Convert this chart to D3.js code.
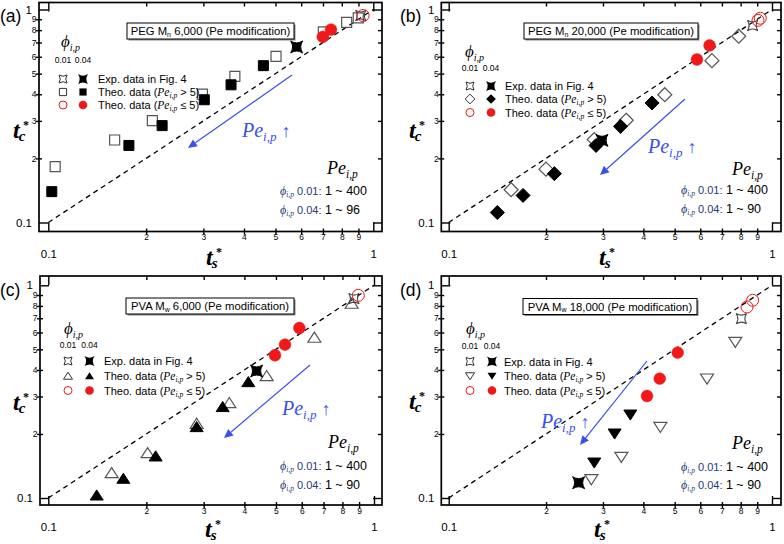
<!DOCTYPE html>
<html><head><meta charset="utf-8">
<script src="https://cdn.jsdelivr.net/npm/d3@7"></script>
<style>body{margin:0;background:#fff}svg{display:block}</style>
</head><body>
<svg id="chart" width="784" height="544"></svg>
<script>
// ---------- tick values / labels ----------
const majorTicks = [0.1, 1];
const majorTickLabels = ["0.1", "1"];
const minorTicks = [0.2, 0.3, 0.4, 0.5, 0.6, 0.7, 0.8, 0.9];
const minorTickLabels = ["2", "3", "4", "5", "6", "7", "8", "9"];

// ---------- panel (a) PEG Mn 6,000 ----------
const aExpOpen = [[0.915, 0.937]];
const aExpFilled = [[0.581, 0.667]];
const aOpen = [[0.105, 0.183], [0.160, 0.244], [0.209, 0.301], [0.298, 0.401], [0.375, 0.485], [0.502, 0.602], [0.702, 0.785], [0.828, 0.871], [0.899, 0.914]];
const aFilled = [[0.1025, 0.1396], [0.177, 0.230], [0.224, 0.285], [0.302, 0.377], [0.365, 0.443], [0.459, 0.545]];
const aRedOpen = [[0.930, 0.937]];
const aRedFilled = [[0.699, 0.744], [0.741, 0.805]];
const aPeRange = ["1 ~ 400", "1 ~ 96"];

// ---------- panel (b) PEG Mn 20,000 ----------
const bExpOpen = [[0.871, 0.841]];
const bExpFilled = [[0.298, 0.243]];
const bOpen = [[0.156, 0.1425], [0.200, 0.178], [0.282, 0.245], [0.354, 0.302], [0.466, 0.398], [0.652, 0.575], [0.789, 0.749]];
const bFilled = [[0.1414, 0.1114], [0.1698, 0.134], [0.2123, 0.1695], [0.2856, 0.230], [0.340, 0.2827], [0.4256, 0.364]];
const bRedOpen = [[0.905, 0.890], [0.920, 0.910]];
const bRedFilled = [[0.586, 0.5825], [0.641, 0.678]];
const bPeRange = ["1 ~ 400", "1 ~ 90"];

// ---------- panel (c) PVA Mw 6,000 ----------
const cExpOpen = [[0.868, 0.866]];
const cExpFilled = [[0.436, 0.3955]];
const cOpen = [[0.1565, 0.131], [0.2018, 0.1627], [0.2854, 0.2236], [0.3596, 0.2797], [0.4683, 0.3748], [0.6559, 0.5675], [0.854, 0.820]];
const cFilled = [[0.1408, 0.1029], [0.170, 0.1233], [0.2136, 0.157], [0.2854, 0.2157], [0.343, 0.268], [0.4112, 0.351]];
const cRedOpen = [[0.895, 0.897]];
const cRedFilled = [[0.4966, 0.469], [0.533, 0.526], [0.590, 0.630]];
const cPeRange = ["1 ~ 400", "1 ~ 90"];

// ---------- panel (d) PVA Mw 18,000 ----------
const dExpOpen = [[0.804, 0.697]];
const dExpFilled = [[0.2523, 0.118]];
const dOpen = [[0.2762, 0.1224], [0.342, 0.1559], [0.4515, 0.2157], [0.6295, 0.364], [0.770, 0.5415]];
const dFilled = [[0.282, 0.1466], [0.326, 0.2007], [0.3646, 0.2465]];
const dRedOpen = [[0.837, 0.791], [0.871, 0.850]];
const dRedFilled = [[0.4106, 0.3017], [0.4495, 0.364], [0.5108, 0.4827]];
const dPeRange = ["1 ~ 400", "1 ~ 90"];

const diagonal = [[0.1, 0.1], [1, 1]];

// ---------- layout ----------
const SANS = "'Liberation Sans', Arial, sans-serif";
const SERIF = "'Liberation Serif', 'DejaVu Serif', serif";
const BLUE = "#3a4ff0";
const NAVY = "#253a78";
const RED = "#f01818";

const panels = [
  { letter: "(a)", poly: "PEG", M: "n", mw: "6,000", shape: "square",
    exp: [aExpOpen, aExpFilled], open: aOpen, filled: aFilled, redOpen: aRedOpen, redFilled: aRedFilled, pe: aPeRange,
    frame: { l: 39, r: 382, t: 2.5, b: 231.5 }, xr: [48.3, 373.3], yr: [222.5, 9.5],
    title: [127, 23, 167, 16], leg: { phiX: 61, phiY: 47, numY: 63, c1: 63, c2: 83, tx: 98, rows: [79, 92, 105] },
    peBox: { x: 327, y: 174, lx: 280, l1: 195, l2: 214 },
    arrow: [[292, 75], [188, 148]], arrowText: [242, 137],
    letterPos: [0, 22], ylab: [13, 138], xlab: [206, 265] },
  { letter: "(b)", poly: "PEG", M: "n", mw: "20,000", shape: "diamond",
    exp: [bExpOpen, bExpFilled], open: bOpen, filled: bFilled, redOpen: bRedOpen, redFilled: bRedFilled, pe: bPeRange,
    frame: { l: 441.3, r: 781, t: 2.5, b: 231.5 }, xr: [448.7, 772], yr: [222.5, 9.5],
    title: [524, 23, 174, 16], leg: { phiX: 465, phiY: 57, numY: 71, c1: 470, c2: 491, tx: 505, rows: [86, 99, 112.5] },
    peBox: { x: 732, y: 175, lx: 681, l1: 194, l2: 213 },
    arrow: [[685, 99], [600, 175]], arrowText: [648, 153],
    letterPos: [400, 22], ylab: [409, 138], xlab: [599, 265] },
  { letter: "(c)", poly: "PVA", M: "w", mw: "6,000", shape: "triUp",
    exp: [cExpOpen, cExpFilled], open: cOpen, filled: cFilled, redOpen: cRedOpen, redFilled: cRedFilled, pe: cPeRange,
    frame: { l: 40, r: 382, t: 276, b: 505 }, xr: [48.3, 374], yr: [498, 285.3],
    title: [126, 298, 168, 16], leg: { phiX: 64, phiY: 334, numY: 348, c1: 68, c2: 89.5, tx: 104, rows: [361, 376, 390.5] },
    peBox: { x: 328, y: 448, lx: 280, l1: 470, l2: 489 },
    arrow: [[310, 365], [224, 438]], arrowText: [282, 415],
    letterPos: [0, 296], ylab: [13, 410], xlab: [205, 537] },
  { letter: "(d)", poly: "PVA", M: "w", mw: "18,000", shape: "triDown",
    exp: [dExpOpen, dExpFilled], open: dOpen, filled: dFilled, redOpen: dRedOpen, redFilled: dRedFilled, pe: dPeRange,
    frame: { l: 441.3, r: 781, t: 276, b: 505 }, xr: [448.7, 772], yr: [498, 285.3],
    title: [523, 298.5, 174, 16], leg: { phiX: 466, phiY: 334, numY: 349, c1: 470, c2: 492, tx: 504, rows: [361.5, 376, 390.5] },
    peBox: { x: 732, y: 449, lx: 681, l1: 471, l2: 489 },
    arrow: [[647, 361], [580, 445]], arrowText: [541, 428],
    letterPos: [400, 296], ylab: [409, 409], xlab: [594, 537] }
];

const svg = d3.select("#chart");

function rich(g, x, y, parts, anchor) {
  const t = g.append("text").attr("x", x).attr("y", y).attr("text-anchor", anchor || "start");
  let cur = 0;
  parts.forEach(p => {
    const target = p.dy || 0;
    const ts = t.append("tspan").attr("dy", target - cur)
      .attr("font-size", p.s).attr("font-family", p.f || SANS)
      .attr("font-style", p.i ? "italic" : "normal")
      .attr("font-weight", p.b ? "bold" : "normal")
      .attr("fill", p.c || "#000").text(p.t);
    if (p.dx !== undefined) ts.attr("dx", p.dx);
    cur = target;
  });
  return t;
}

function shapePath(shape, s) {
  if (shape === "square") return `M${-s},${-s}H${s}V${s}H${-s}Z`;
  if (shape === "diamond") { const d = s * 1.35; return `M0,${-d}L${d},0L0,${d}L${-d},0Z`; }
  if (shape === "triUp") { const w = s * 1.25, h = s * 1.05; return `M0,${-h}L${w},${h * 0.85}L${-w},${h * 0.85}Z`; }
  if (shape === "triDown") { const w = s * 1.25, h = s * 1.05; return `M0,${h}L${w},${-h * 0.85}L${-w},${-h * 0.85}Z`; }
  if (shape === "bowtie") {
    const k = s * 0.35;
    return `M${-s},${-s}Q0,${-k} ${s},${-s}Q${k},0 ${s},${s}Q0,${k} ${-s},${s}Q${-k},0 ${-s},${-s}Z`;
  }
}

function drawMarks(g, data, x, y, shape, s, style) {
  g.selectAll(null).data(data).enter().append("path")
    .attr("transform", d => `translate(${x(d[0])},${y(d[1])})`)
    .attr("d", shapePath(shape, s))
    .attr("fill", style.fill).attr("stroke", style.stroke).attr("stroke-width", style.sw || 1);
}
function drawCircles(g, data, x, y, r, style) {
  g.selectAll(null).data(data).enter().append("circle")
    .attr("cx", d => x(d[0])).attr("cy", d => y(d[1])).attr("r", r)
    .attr("fill", style.fill).attr("stroke", style.stroke).attr("stroke-width", style.sw || 1);
}

function tickAxis(g, axisFn, scale, pos, vals, size, isX) {
  const ax = axisFn(scale).tickValues(vals).tickSize(size).tickFormat("");
  const gg = g.append("g").attr("transform", isX ? `translate(0,${pos})` : `translate(${pos},0)`).call(ax);
  gg.select(".domain").remove();
  gg.selectAll("line").attr("stroke", "#000").attr("stroke-width", 1.4);
}
function labelAxis(g, axisFn, scale, pos, vals, labels, pad, fs, isX) {
  const ax = axisFn(scale).tickValues(vals).tickSize(0).tickPadding(pad).tickFormat((d, i) => labels[i]);
  const gg = g.append("g").attr("transform", isX ? `translate(0,${pos})` : `translate(${pos},0)`).call(ax);
  gg.select(".domain").remove();
  gg.selectAll("line").remove();
  gg.selectAll("text").attr("font-size", fs).attr("font-family", SANS).attr("fill", "#000");
}

function axisTitle(g, pos, sub) {
  const t = g.append("text").attr("x", pos[0]).attr("y", pos[1])
    .attr("font-family", SERIF).attr("font-weight", "bold").attr("font-style", "italic");
  t.append("tspan").attr("font-size", 24).text("t");
  t.append("tspan").attr("font-size", 15).attr("dy", 3).attr("dx", -1).text(sub);
  t.append("tspan").attr("font-size", 12).attr("font-style", "normal").attr("x", pos[0] + 10).attr("dy", -12.5).text("*");
}

panels.forEach(p => {
  const g = svg.append("g");
  const f = p.frame;
  const x = d3.scaleLog().domain([0.1, 1]).range(p.xr);
  const y = d3.scaleLog().domain([0.1, 1]).range(p.yr);

  const cid = "clip" + p.letter.replace(/\W/g, "");
  g.append("clipPath").attr("id", cid).append("rect")
    .attr("x", f.l).attr("y", f.t).attr("width", f.r - f.l).attr("height", f.b - f.t);
  const plot = g.append("g").attr("clip-path", `url(#${cid})`);

  // diagonal dashed line
  plot.append("path").datum(diagonal)
    .attr("d", d3.line().x(d => x(d[0])).y(d => y(d[1])))
    .attr("fill", "none").attr("stroke", "#000").attr("stroke-width", 1.3).attr("stroke-dasharray", "5,4");

  // data marks
  const ms = p.shape === "square" ? 5 : 5.2;
  drawMarks(plot, p.open, x, y, p.shape, ms, { fill: "none", stroke: "#555", sw: 1.2 });
  drawMarks(plot, p.filled, x, y, p.shape, ms, { fill: "#000", stroke: "#000", sw: 1 });
  drawMarks(plot, p.exp[0], x, y, "bowtie", 5.2, { fill: "none", stroke: "#444", sw: 1.1 });
  drawMarks(plot, p.exp[1], x, y, "bowtie", 6, { fill: "#000", stroke: "#000", sw: 1 });
  drawCircles(plot, p.redOpen, x, y, 6, { fill: "none", stroke: RED, sw: 1 });
  drawCircles(plot, p.redFilled, x, y, 5.9, { fill: RED, stroke: RED, sw: 0.5 });

  // frame
  g.append("rect").attr("x", f.l).attr("y", f.t).attr("width", f.r - f.l).attr("height", f.b - f.t)
    .attr("fill", "none").attr("stroke", "#000").attr("stroke-width", 1.7);

  // ticks
  tickAxis(g, d3.axisLeft, y, f.l, minorTicks, 3, false);
  tickAxis(g, d3.axisRight, y, f.l, minorTicks, 3, false);
  tickAxis(g, d3.axisRight, y, f.l, majorTicks, 9, false);
  tickAxis(g, d3.axisBottom, x, f.b, minorTicks, 3, true);
  tickAxis(g, d3.axisTop, x, f.b, minorTicks, 3, true);
  tickAxis(g, d3.axisTop, x, f.b, majorTicks, 9, true);
  tickAxis(g, d3.axisBottom, x, f.t, minorTicks, 4, true);
  tickAxis(g, d3.axisBottom, x, f.t, majorTicks, 9, true);
  tickAxis(g, d3.axisLeft, y, f.r, minorTicks, 4, false);
  tickAxis(g, d3.axisLeft, y, f.r, majorTicks, 9, false);

  // tick labels
  labelAxis(g, d3.axisLeft, y, f.l, minorTicks, minorTickLabels, 2.5, 8.5, false);
  labelAxis(g, d3.axisLeft, y, f.l, majorTicks, majorTickLabels, 7, 11.5, false);
  labelAxis(g, d3.axisBottom, x, f.b, minorTicks, minorTickLabels, 2.5, 8.5, true);
  labelAxis(g, d3.axisBottom, x, f.b, majorTicks, majorTickLabels, 18, 11.5, true);

  // axis titles
  axisTitle(g, p.ylab, "c");
  axisTitle(g, p.xlab, "s");

  // panel letter
  g.append("text").attr("x", p.letterPos[0]).attr("y", p.letterPos[1]).attr("font-family", SANS)
    .attr("font-size", 17.5).text(p.letter);

  // title box
  const tb = p.title;
  g.append("rect").attr("x", tb[0] + 1.5).attr("y", tb[1] + 1.5).attr("width", tb[2]).attr("height", tb[3]).attr("fill", "#888");
  g.append("rect").attr("x", tb[0]).attr("y", tb[1]).attr("width", tb[2]).attr("height", tb[3])
    .attr("fill", "#fff").attr("stroke", "#000").attr("stroke-width", 1);
  rich(g, tb[0] + tb[2] / 2, tb[1] + 12.2, [
    { t: p.poly + " M", s: 11.3 },
    { t: p.M, s: 7, dy: 1.5 },
    { t: " " + p.mw + " (Pe modification)", s: 11.3, dy: 0 }
  ], "middle");

  // legend
  const L = p.leg;
  rich(g, L.phiX, L.phiY, [{ t: "ϕ", s: 17, f: SERIF, i: true }, { t: "i,p", s: 10, f: SERIF, i: true, dy: 3.5 }]);
  g.append("text").attr("x", L.c1).attr("y", L.numY).attr("text-anchor", "middle").attr("font-family", SANS).attr("font-size", 8.5).text("0.01");
  g.append("text").attr("x", L.c2).attr("y", L.numY).attr("text-anchor", "middle").attr("font-family", SANS).attr("font-size", 8.5).text("0.04");
  const lg = g.append("g");
  const ls = 3.6;
  lg.append("path").attr("transform", `translate(${L.c1},${L.rows[0]})`).attr("d", shapePath("bowtie", 4)).attr("fill", "none").attr("stroke", "#333").attr("stroke-width", 1);
  lg.append("path").attr("transform", `translate(${L.c2},${L.rows[0]})`).attr("d", shapePath("bowtie", 5)).attr("fill", "#000");
  lg.append("path").attr("transform", `translate(${L.c1},${L.rows[1]})`).attr("d", shapePath(p.shape, ls)).attr("fill", "none").attr("stroke", "#333").attr("stroke-width", 1);
  lg.append("path").attr("transform", `translate(${L.c2},${L.rows[1]})`).attr("d", shapePath(p.shape, ls)).attr("fill", "#000");
  lg.append("circle").attr("cx", L.c1).attr("cy", L.rows[2]).attr("r", 4).attr("fill", "none").attr("stroke", RED).attr("stroke-width", 1);
  lg.append("circle").attr("cx", L.c2).attr("cy", L.rows[2]).attr("r", 4.3).attr("fill", RED);
  rich(g, L.tx, L.rows[0] + 4, [{ t: "Exp. data in Fig. 4", s: 11 }]);
  rich(g, L.tx, L.rows[1] + 4, [{ t: "Theo. data (", s: 11 }, { t: "Pe", s: 11.5, f: SERIF, i: true }, { t: "i,p", s: 7.5, f: SERIF, i: true, dy: 2 }, { t: " > 5)", s: 11, dy: 0 }]);
  rich(g, L.tx, L.rows[2] + 4, [{ t: "Theo. data (", s: 11 }, { t: "Pe", s: 11.5, f: SERIF, i: true }, { t: "i,p", s: 7.5, f: SERIF, i: true, dy: 2 }, { t: " ≤ 5)", s: 11, dy: 0 }]);

  // Pe range box
  const P = p.peBox;
  rich(g, P.x, P.y, [{ t: "Pe", s: 18, f: SERIF, i: true }, { t: "i,p", s: 11.5, f: SERIF, i: true, dy: 4 }]);
  rich(g, P.lx, P.l1, [{ t: "ϕ", s: 12, f: SERIF, i: true, c: NAVY }, { t: "i,p", s: 7.5, f: SERIF, i: true, c: NAVY, dy: 2 }, { t: " 0.01:", s: 11, c: NAVY, dy: 0 }, { t: " " + p.pe[0], s: 12.5 }]);
  rich(g, P.lx, P.l2, [{ t: "ϕ", s: 12, f: SERIF, i: true, c: NAVY }, { t: "i,p", s: 7.5, f: SERIF, i: true, c: NAVY, dy: 2 }, { t: " 0.04:", s: 11, c: NAVY, dy: 0 }, { t: " " + p.pe[1], s: 12.5 }]);

  // blue arrow
  const [a0, a1] = p.arrow;
  const ang = Math.atan2(a1[1] - a0[1], a1[0] - a0[0]);
  const hl = 9, hw = 4.2;
  const bx = a1[0] - hl * Math.cos(ang), by = a1[1] - hl * Math.sin(ang);
  g.append("line").attr("x1", a0[0]).attr("y1", a0[1]).attr("x2", bx).attr("y2", by)
    .attr("stroke", BLUE).attr("stroke-width", 1.2);
  g.append("path").attr("d", `M${a1[0]},${a1[1]}L${bx + hw * Math.sin(ang)},${by - hw * Math.cos(ang)}L${bx - hw * Math.sin(ang)},${by + hw * Math.cos(ang)}Z`)
    .attr("fill", BLUE);
  rich(g, p.arrowText[0], p.arrowText[1], [
    { t: "Pe", s: 20, f: SERIF, i: true, c: BLUE },
    { t: "i,p", s: 13, f: SERIF, i: true, c: BLUE, dy: 4 },
    { t: " ↑", s: 18, c: BLUE, dy: 0 }
  ]);
});
</script>
</body></html>
